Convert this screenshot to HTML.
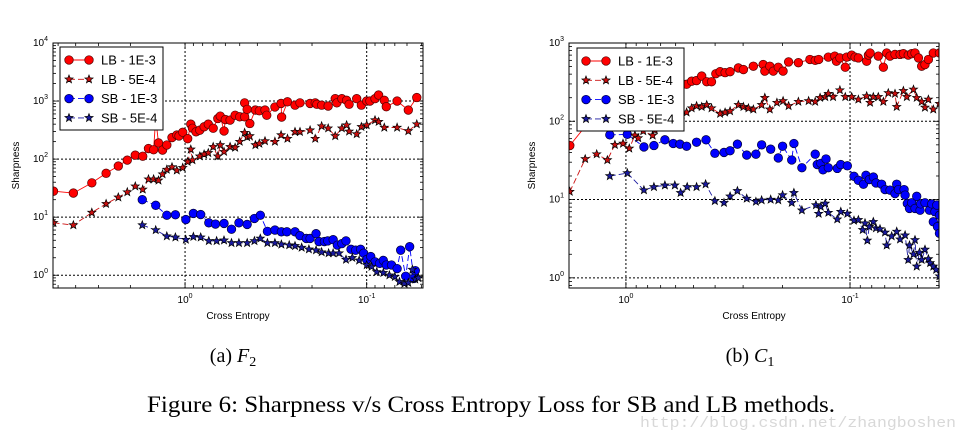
<!DOCTYPE html>
<html><head><meta charset="utf-8"><style>
html,body{margin:0;padding:0;background:#fff;}
svg{display:block;}
</style></head><body>
<svg id="fig" width="968" height="439" viewBox="0 0 968 439" xmlns="http://www.w3.org/2000/svg">
<g id="plotA"></g>
<g id="plotB"></g>
<text x="233" y="362" font-family="Liberation Serif, serif" font-size="20" text-anchor="middle">(a) <tspan font-style="italic">F</tspan><tspan font-size="14" dy="4">2</tspan></text>
<text x="750" y="362" font-family="Liberation Serif, serif" font-size="20" text-anchor="middle">(b) <tspan font-style="italic">C</tspan><tspan font-size="14" dy="4">1</tspan></text>
<text x="147" y="412" font-family="Liberation Serif, serif" font-size="23" textLength="688" lengthAdjust="spacingAndGlyphs">Figure 6: Sharpness v/s Cross Entropy Loss for SB and LB methods.</text>
<text x="640" y="427" font-family="Liberation Mono, monospace" font-size="15" fill="#d8d8d8" textLength="316" lengthAdjust="spacingAndGlyphs">http://blog.csdn.net/zhangboshen</text>
</svg>
<script>
// ---------- Plot A (F2) data ----------
const aLB1x=[5.3,4.12,3.26,2.72,2.33,2.08,1.88,1.71,1.59,1.49,1.45,1.40,1.33,1.26,1.18,1.11,1.08,1.03,0.967,0.93,0.91,0.87,0.83,0.785,0.745,0.70,0.66,0.64,0.61,0.60,0.565,0.53,0.50,0.47,0.47,0.455,0.44,0.41,0.39,0.363,0.355,0.32,0.296,0.294,0.273,0.248,0.233,0.205,0.192,0.188,0.177,0.163,0.149,0.146,0.137,0.129,0.125,0.1135,0.107,0.1,0.096,0.090,0.086,0.080,0.078,0.068,0.059,0.053];
const aLB1y=[28,26,39,57,76,96,117,112,152,145,500,190,143,175,235,260,250,290,225,400,340,295,315,360,400,340,500,550,305,480,470,570,535,535,930,720,410,700,680,700,570,790,910,530,970,850,930,910,930,880,850,820,1100,930,1100,1030,880,1100,850,1000,1000,1100,1270,1030,800,1000,700,1150];
const aLB5x=[5.3,4.12,3.26,2.72,2.33,2.08,1.88,1.71,1.59,1.49,1.40,1.33,1.26,1.18,1.11,1.03,0.967,0.93,0.91,0.83,0.785,0.745,0.70,0.66,0.64,0.61,0.565,0.53,0.50,0.47,0.455,0.44,0.41,0.39,0.363,0.32,0.296,0.273,0.248,0.233,0.205,0.192,0.177,0.163,0.149,0.137,0.129,0.125,0.1135,0.107,0.1,0.090,0.086,0.080,0.068,0.059,0.053];
const aLB5y=[8,7.3,12,17,22,27,34,30,45,45,43,55,66,73,64,71,90,147,96,112,121,128,163,112,175,134,163,158,200,285,240,250,175,185,205,200,260,225,295,295,315,225,370,340,250,340,385,300,270,360,385,470,440,350,350,305,400];
const aSB1x=[1.72,1.45,1.26,1.13,0.99,0.90,0.82,0.74,0.68,0.61,0.555,0.505,0.455,0.415,0.385,0.352,0.32,0.295,0.275,0.248,0.233,0.215,0.205,0.19,0.183,0.171,0.164,0.153,0.145,0.137,0.13,0.122,0.115,0.108,0.104,0.1,0.095,0.09,0.085,0.081,0.078,0.073,0.068,0.065,0.061,0.058,0.055,0.054];
const aSB1y=[20,16,10.8,11,9.1,11.6,11.1,8,7.6,7.8,6.2,8,7.5,9.5,10.8,5.7,6,5.6,5.6,5.6,4.8,4.3,4.3,5.2,3.8,3.8,3.9,4.1,3.3,3.5,3.9,2.8,2.7,2.8,2.4,1.86,2.1,1.7,1.6,1.8,1.5,1.5,1.3,2.7,0.96,3.1,0.88,1.2];
const aSB5x=[1.72,1.45,1.26,1.13,0.99,0.90,0.82,0.74,0.67,0.61,0.555,0.505,0.455,0.415,0.385,0.352,0.32,0.295,0.267,0.248,0.228,0.208,0.19,0.177,0.162,0.153,0.142,0.13,0.12,0.11,0.1,0.094,0.088,0.081,0.075,0.07,0.066,0.062,0.059,0.056,0.054,0.052];
const aSB5y=[7.3,6,4.7,4.5,4.1,4.6,4.5,3.9,3.9,4,3.6,3.6,3.6,3.9,4.3,3.6,3.6,3.4,3.3,3.2,3,2.8,2.7,2.5,2.4,2.4,2.4,1.86,2,1.8,1.5,1.4,1.14,1.1,1,0.94,0.77,0.72,0.74,1.25,0.85,0.9];
// ---------- Plot B (C1) data ----------
const bLB1x=[1.78,1.5,1.3,1.15,1.0,0.86,0.74,0.66,0.594,0.536,0.509,0.484,0.459,0.436,0.415,0.397,0.380,0.361,0.343,0.315,0.299,0.270,0.244,0.240,0.228,0.220,0.209,0.199,0.188,0.170,0.151,0.143,0.138,0.125,0.117,0.115,0.111,0.105,0.1035,0.0983,0.095,0.0918,0.0843,0.0828,0.0814,0.0748,0.071,0.0686,0.0663,0.063,0.0598,0.0578,0.055,0.0531,0.0513,0.0495,0.0479,0.0463,0.0447,0.0425,0.0399];
const bLB1y=[49,90,140,180,210,250,270,290,310,297,325,331,378,320,320,405,430,418,430,480,458,505,530,437,505,437,490,437,573,560,616,600,616,660,680,585,645,490,660,700,660,645,585,700,745,680,490,745,680,715,715,730,700,730,745,645,505,530,616,745,745];
const bLB5x=[1.78,1.52,1.35,1.21,1.12,1.03,0.966,0.912,0.881,0.837,0.760,0.743,0.705,0.681,0.647,0.594,0.564,0.536,0.509,0.484,0.459,0.436,0.415,0.380,0.361,0.343,0.315,0.299,0.284,0.270,0.248,0.240,0.228,0.212,0.199,0.188,0.170,0.153,0.143,0.136,0.129,0.125,0.119,0.111,0.105,0.0983,0.0918,0.0843,0.0814,0.0787,0.0748,0.071,0.0675,0.063,0.0619,0.0578,0.0558,0.0521,0.0504,0.0479,0.0463,0.0447,0.0425,0.0399];
const bLB5y=[12.6,33,38,32,50,52,45,66,61,75,66,77,92,88,101,112,123,130,147,157,153,162,147,125,130,135,162,153,147,142,162,200,142,173,182,157,178,182,178,200,205,225,205,250,205,205,190,210,173,205,205,178,230,225,153,245,205,255,200,178,150,190,142,168];
const bSB1x=[1.18,0.986,0.831,0.750,0.670,0.615,0.574,0.536,0.484,0.439,0.401,0.365,0.343,0.318,0.289,0.263,0.248,0.226,0.209,0.200,0.182,0.178,0.164,0.143,0.140,0.135,0.132,0.128,0.125,0.114,0.110,0.1028,0.096,0.0918,0.0871,0.0849,0.082,0.0787,0.0766,0.0723,0.0698,0.0663,0.063,0.0619,0.0608,0.0574,0.0568,0.0555,0.0543,0.0531,0.0513,0.0504,0.0487,0.0484,0.0463,0.0442,0.0432,0.0425,0.0418,0.041,0.0407,0.0399,0.0399];
const bSB1y=[67,68,47,49,58,52,51,48,54,58,39,40,42,51,37,38,50,44,34,48,32,52,25.5,38,28,29,24,33,25.5,25,28,27,19.8,17.6,15.7,20.4,18,19.4,16.3,15.7,13.4,13.2,11.9,15.7,13.4,13.4,11.4,8.9,7.7,9.1,7.7,11,7.3,8.8,9.1,7.3,8.8,5.2,7,8.5,4.5,6.3,3.7];
const bSB5x=[1.18,0.986,0.831,0.750,0.670,0.605,0.570,0.533,0.484,0.441,0.401,0.365,0.343,0.318,0.289,0.263,0.248,0.226,0.209,0.200,0.182,0.178,0.164,0.142,0.138,0.135,0.129,0.125,0.114,0.110,0.1028,0.096,0.0918,0.0878,0.0857,0.0837,0.082,0.0787,0.0766,0.0735,0.0698,0.0686,0.0652,0.0619,0.0598,0.0568,0.055,0.0543,0.0521,0.0513,0.0504,0.049,0.0479,0.0463,0.0447,0.0439,0.0425,0.0413,0.0399];
const bSB5y=[20,21.8,13.2,14.5,15.2,15.2,12.2,14.5,14.5,15.7,9.6,9.1,11,12.9,10.3,9.4,9.8,10,9.8,11.4,9.1,12.2,7.3,8.5,6.6,8.1,8.9,6.8,5.6,7,6.6,5.4,5.5,4.1,5,3,4.5,5.2,4.3,4.2,3.8,2.6,3.4,3.9,3.1,3.5,1.7,2.6,2,3.05,1.4,2.1,1.7,2.3,1.74,1.55,1.4,1.27,1.05];
// tick labels
const aYTicks=[0,1,2,3,4];
const bYTicks=[0,1,2,3];
const xTicks=[0,-1];

const NS="http://www.w3.org/2000/svg";
function mk(parent,tag,attrs){const e=document.createElementNS(NS,tag);for(const k in attrs)e.setAttribute(k,attrs[k]);parent.appendChild(e);return e;}

function starPath(cx,cy,r){let d="";for(let i=0;i<10;i++){const rr=i%2?r*0.42:r;const a=-Math.PI/2+i*Math.PI/5;d+=(i?"L":"M")+(cx+rr*Math.cos(a)).toFixed(1)+","+(cy+rr*Math.sin(a)).toFixed(1);}return d+"Z";}

function drawPlot(g,cfg){
  const {x0,x1,y0,y1,uMin,uMax,lMin,lMax}=cfg;
  const sx=v=>x0+(-Math.log10(v)-uMin)/(uMax-uMin)*(x1-x0);
  const sy=v=>y1-(Math.log10(v)-lMin)/(lMax-lMin)*(y1-y0);
  const cid="clip"+cfg.id;
  const defs=mk(g,"defs",{});const cp=mk(defs,"clipPath",{id:cid});mk(cp,"rect",{x:x0,y:y0,width:x1-x0,height:y1-y0});
  for(const t of cfg.yTicks){const y=sy(Math.pow(10,t));if(y>y0+1&&y<y1-1){const l=mk(g,"line",{x1:x0,x2:x1,y1:y,y2:y,stroke:"#000","stroke-width":1,"stroke-dasharray":"2,2"});}}
  for(const t of xTicks){const x=sx(Math.pow(10,t));const l=mk(g,"line",{x1:x,x2:x,y1:y0,y2:y1,stroke:"#000","stroke-width":1,"stroke-dasharray":"2,2"});}
  const tk=mk(g,"g",{stroke:"#000","stroke-width":0.8});
  
  for(let d=Math.floor(lMin);d<=Math.ceil(lMax);d++){for(let m=1;m<10;m++){const v=m*Math.pow(10,d);const y=sy(v);if(y<y0-0.5||y>y1+0.5)continue;const L=m===1?6:3;mk(tk,"line",{x1:x0,x2:x0+L,y1:y,y2:y});mk(tk,"line",{x1:x1,x2:x1-L,y1:y,y2:y});}}
  for(let d=-3;d<=2;d++){for(let m=1;m<10;m++){const v=m*Math.pow(10,d);const x=sx(v);if(x<x0-0.5||x>x1+0.5)continue;const L=m===1?6:3;mk(tk,"line",{x1:x,x2:x,y1:y1,y2:y1-L});mk(tk,"line",{x1:x,x2:x,y1:y0,y2:y0+L});}}
  for(const t of cfg.yTicks){const y=sy(Math.pow(10,t));const tx=mk(g,"text",{x:x0-5,y:y+3,"font-family":"Liberation Sans, sans-serif","font-size":10,"text-anchor":"end"});tx.textContent="10";const s=mk(tx,"tspan",{dy:-5,"font-size":7});s.textContent=String(t);}
  for(const t of xTicks){const x=sx(Math.pow(10,t));const tx=mk(g,"text",{x:x,y:y1+15,"font-family":"Liberation Sans, sans-serif","font-size":10,"text-anchor":"middle"});tx.textContent="10";const s=mk(tx,"tspan",{dy:-5,"font-size":7});s.textContent=String(t);}
  const xt=mk(g,"text",{x:(x0+x1)/2,y:y1+31,"font-family":"Liberation Sans, sans-serif","font-size":10,"text-anchor":"middle"});xt.textContent="Cross Entropy";
  
  const yt=mk(g,"text",{x:0,y:0,"font-family":"Liberation Sans, sans-serif","font-size":10,"text-anchor":"middle",transform:`translate(${cfg.yTitleX},${(y0+y1)/2}) rotate(-90)`});yt.textContent="Sharpness";
  
  const area=mk(g,"g",{"clip-path":`url(#${cid})`});
  const series=[
    {x:cfg.s[2],y:cfg.s[3],col:"#0000ff",edge:"#000033",mk:"o",dash:"6,3",name:"series-sb-1e-3"},
    {x:cfg.s[6],y:cfg.s[7],col:"#1a1aa0",edge:"#000",mk:"*",dash:"6,3",name:"series-sb-5e-4"},
    {x:cfg.s[0],y:cfg.s[1],col:"#ff0000",edge:"#550000",mk:"o",dash:null,name:"series-lb-1e-3"},
    {x:cfg.s[4],y:cfg.s[5],col:"#cc1010",edge:"#000",mk:"*",dash:"6,3",name:"series-lb-5e-4"}];
  for(const se of series){
    const sg=mk(area,"g",{});
    
    
    let d="";se.x.forEach((v,i)=>{d+=(i?"L":"M")+sx(v).toFixed(1)+","+sy(se.y[i]).toFixed(1);});
    const pa={d:d,fill:"none",stroke:se.col,"stroke-width":0.9};if(se.dash)pa["stroke-dasharray"]=se.dash;mk(sg,"path",pa);
    se.x.forEach((v,i)=>{const cx=sx(v),cy=sy(se.y[i]);let m;
      if(se.mk==="o")m=mk(sg,"circle",{cx:cx,cy:cy,r:4.3,fill:se.col,stroke:se.edge,"stroke-width":0.7});
      else m=mk(sg,"path",{d:starPath(cx,cy,4.3),fill:se.col,stroke:se.edge,"stroke-width":0.7});
      
      });
  }
  const fr=mk(g,"rect",{x:x0,y:y0,width:x1-x0,height:y1-y0,fill:"none",stroke:"#000","stroke-width":1});
  
  const lg=mk(g,"g",{});
  
  const lx=cfg.legX,ly=cfg.legY;
  mk(lg,"rect",{x:lx,y:ly,width:cfg.legW,height:83,fill:"#fff",stroke:"#000","stroke-width":1});
  const entries=[["LB - 1E-3","#ff0000","#550000","o",null],["LB - 5E-4","#cc1010","#000","*","6,3"],["SB - 1E-3","#0000ff","#000033","o","6,3"],["SB - 5E-4","#1a1aa0","#000","*","6,3"]];
  entries.forEach((e,i)=>{const y=ly+13+i*19.3;const eg=mk(lg,"g",{});
    
    const la={x1:lx+9,x2:lx+29,y1:y,y2:y,stroke:e[1],"stroke-width":0.9};if(e[4])la["stroke-dasharray"]=e[4];mk(eg,"line",la);
    [lx+9,lx+29].forEach(px=>{if(e[3]==="o")mk(eg,"circle",{cx:px,cy:y,r:4.3,fill:e[1],stroke:e[2],"stroke-width":0.7});else mk(eg,"path",{d:starPath(px,y,4.3),fill:e[1],stroke:e[2],"stroke-width":0.7});});
    const t=mk(eg,"text",{x:lx+41,y:y+4.5,"font-family":"Liberation Sans, sans-serif","font-size":13});t.textContent=e[0];});
}
drawPlot(document.getElementById("plotA"),{id:"A",x0:53,x1:423,y0:43,y1:288,uMin:-0.727,uMax:1.31,lMin:-0.22,lMax:4,yTicks:aYTicks,yTitleX:19,legX:60,legY:47,legW:103,
  s:[aLB1x,aLB1y,aSB1x,aSB1y,aLB5x,aLB5y,aSB5x,aSB5y]});
drawPlot(document.getElementById("plotB"),{id:"B",x0:569,x1:939,y0:43,y1:288,uMin:-0.254,uMax:1.397,lMin:-0.13,lMax:3,yTicks:bYTicks,yTitleX:535,legX:577,legY:48,legW:107,
  s:[bLB1x,bLB1y,bSB1x,bSB1y,bLB5x,bLB5y,bSB5x,bSB5y]});
</script>
</body></html>
